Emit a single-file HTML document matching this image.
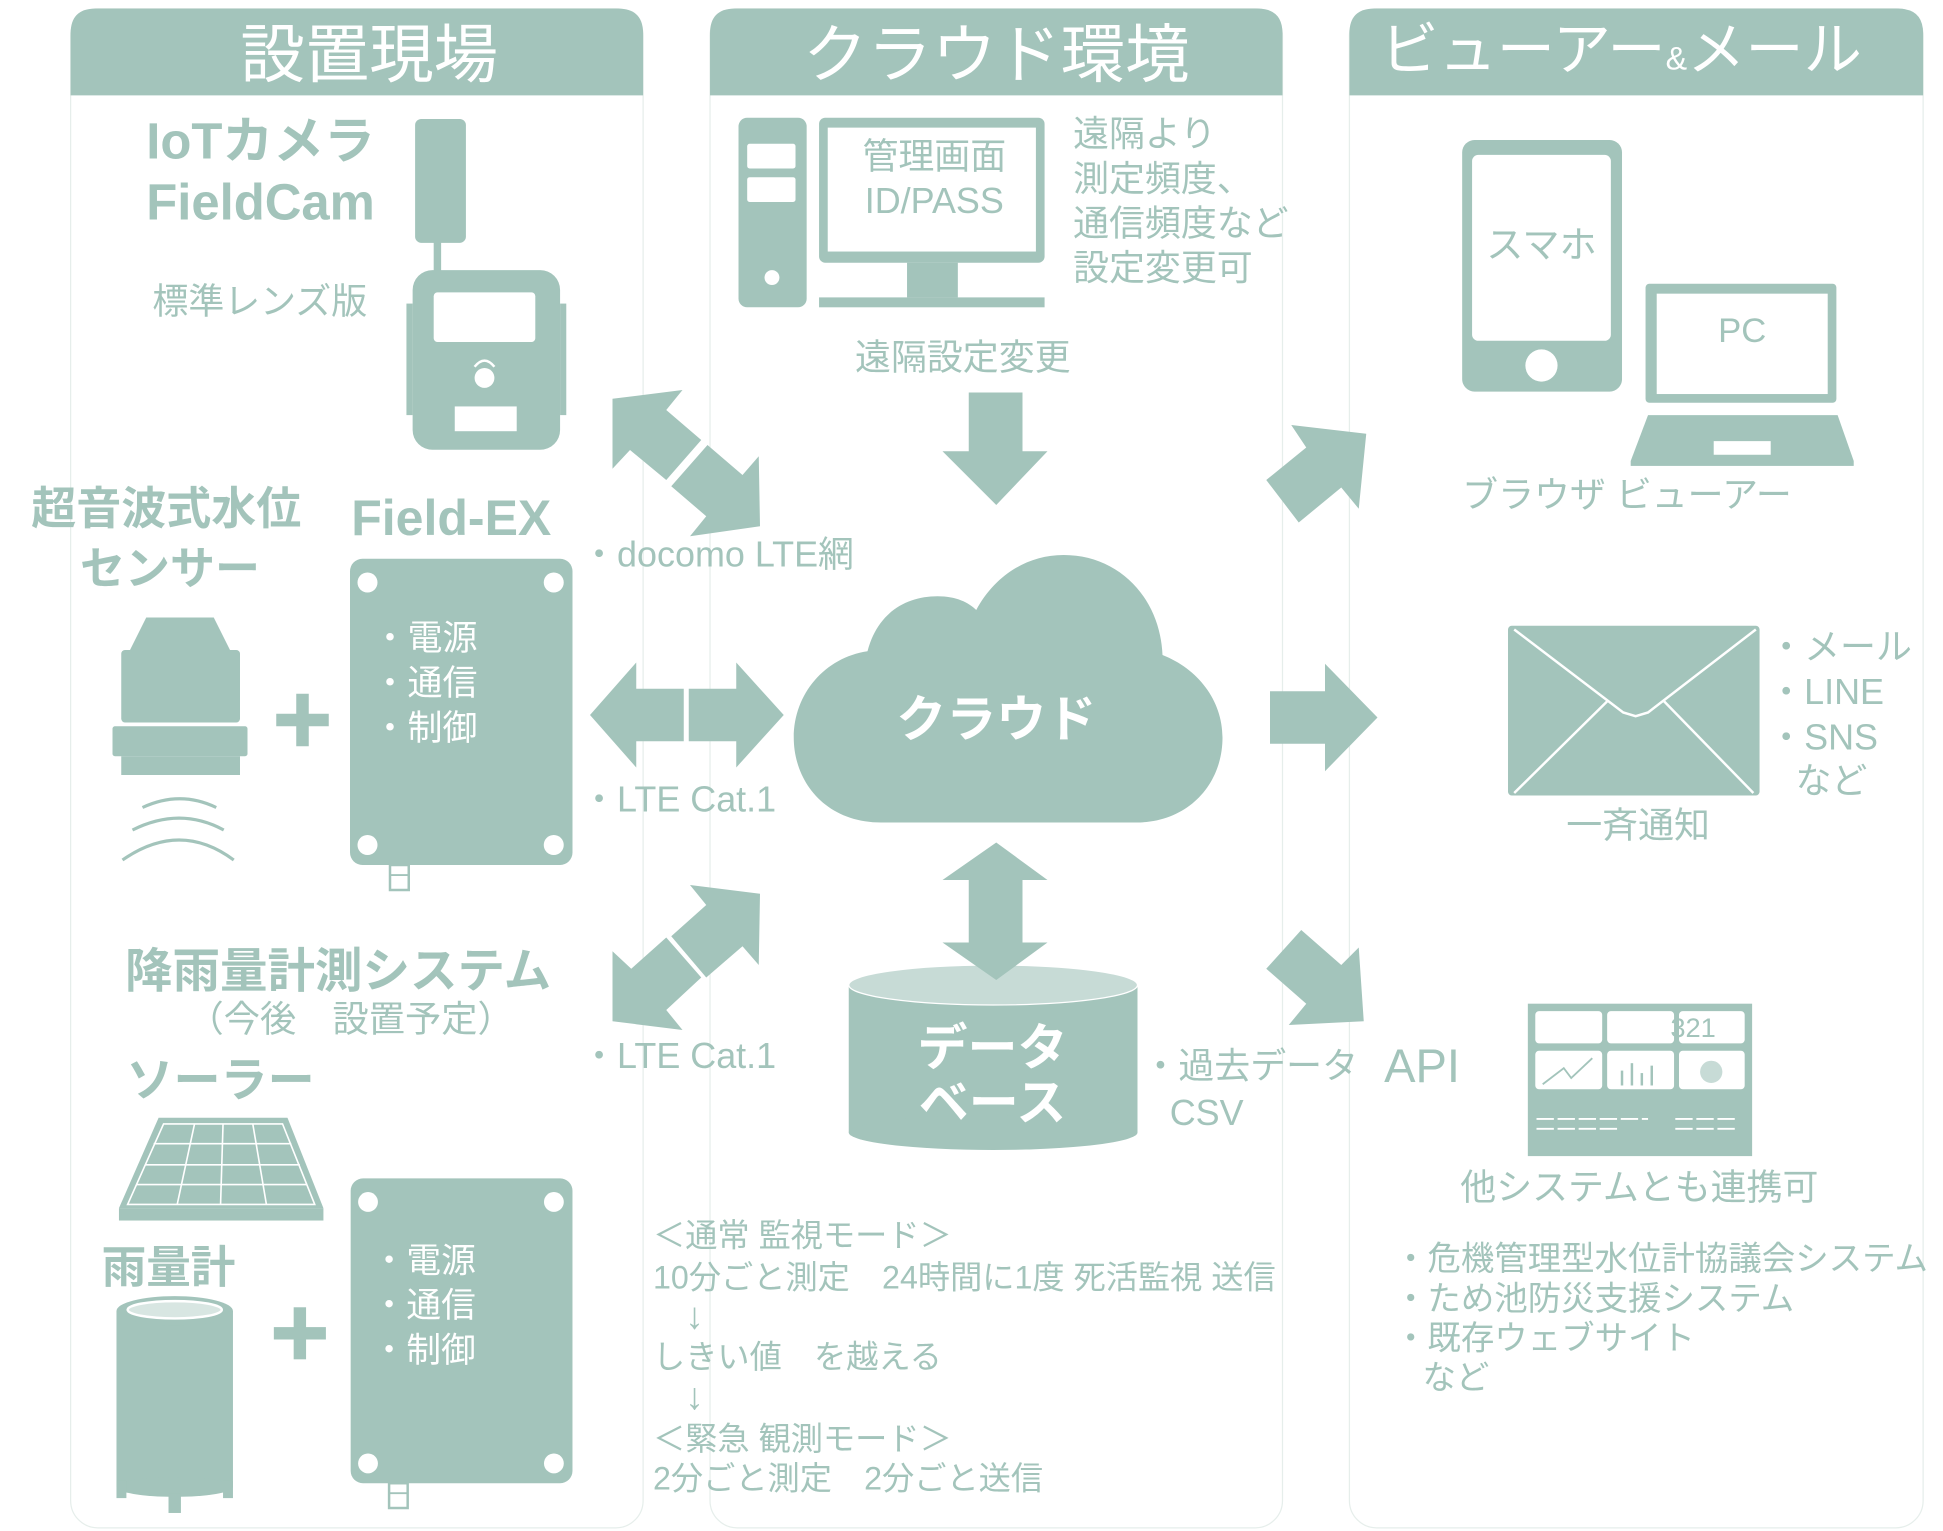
<!DOCTYPE html>
<html><head><meta charset="utf-8"><style>
html,body{margin:0;padding:0;background:#fff;}
svg{display:block;}
text{font-family:"Liberation Sans","Noto Sans CJK JP",sans-serif;fill:#a3c4bb;}
.w{fill:#fff;}
.b{font-weight:bold;}
</style></head><body>
<svg width="1943" height="1531" viewBox="0 0 1554.4 1224.8" xmlns="http://www.w3.org/2000/svg">
<g fill="#a3c4bb">
<g transform="scale(0.9913)">
<g fill="#fff" stroke="#e6eeeb" stroke-width="1">
<rect x="57" y="7" width="462" height="1226" rx="22"/>
<rect x="573" y="7" width="462" height="1226" rx="22"/>
<rect x="1089" y="7" width="463" height="1226" rx="22"/>
</g>
<path d="M57,77 V27 Q57,7 77,7 H499 Q519,7 519,27 V77 Z"/>
<path d="M573,77 V27 Q573,7 593,7 H1015 Q1035,7 1035,27 V77 Z"/>
<path d="M1089,77 V27 Q1089,7 1109,7 H1532 Q1552,7 1552,27 V77 Z"/>
<text class="w" x="298" y="62" font-size="52" text-anchor="middle">設置現場</text>
<text class="w" x="804" y="62" font-size="52" text-anchor="middle">クラウド環境</text>
<text class="w" x="1114" y="56" font-size="47">ビューアー<tspan font-size="26">&amp;</tspan>メール</text>

<text class="b" x="118" y="128" font-size="41">IoTカメラ</text>
<text class="b" x="118" y="177" font-size="41">FieldCam</text>
<text x="123" y="253" font-size="29">標準レンズ版</text>
<rect x="335" y="96" width="41" height="100" rx="5"/>
<rect x="350" y="195" width="6" height="30"/>
<rect x="333" y="218" width="119" height="145" rx="16"/>
<rect x="328" y="245" width="5" height="90"/><rect x="452" y="245" width="5" height="90"/>
<rect x="350" y="236" width="82" height="40" rx="3" fill="#fff"/>
<circle cx="391" cy="305" r="8" fill="#fff"/>
<path d="M383,296 Q391,286 399,296" fill="none" stroke="#fff" stroke-width="2"/>
<rect x="367" y="328" width="50" height="20" fill="#fff"/>

<rect x="596" y="95" width="55" height="153" rx="7"/>
<rect x="603" y="116" width="39" height="20" rx="2" fill="#fff"/>
<rect x="603" y="143" width="39" height="20" rx="2" fill="#fff"/>
<circle cx="623" cy="224" r="6" fill="#fff"/>
<rect x="661" y="95" width="182" height="117" rx="5"/>
<rect x="668" y="103" width="168" height="100" fill="#fff"/>
<rect x="732" y="212" width="41" height="28"/>
<rect x="661" y="240" width="182" height="8"/>
<text x="754" y="136" font-size="29" text-anchor="middle">管理画面</text>
<text x="754" y="172" font-size="29" text-anchor="middle">ID/PASS</text>
<text x="866" y="118" font-size="29">遠隔より</text>
<text x="866" y="154" font-size="29">測定頻度、</text>
<text x="866" y="190" font-size="29">通信頻度など</text>
<text x="866" y="226" font-size="29">設定変更可</text>
<text x="777" y="298" font-size="29" text-anchor="middle">遠隔設定変更</text>

<rect x="1180" y="113" width="129" height="203" rx="10"/>
<rect x="1188" y="125" width="112" height="150" rx="5" fill="#fff"/>
<circle cx="1244" cy="295" r="13" fill="#fff"/>
<text x="1244" y="208" font-size="30" text-anchor="middle">スマホ</text>
<rect x="1328" y="229" width="154" height="96" rx="3"/>
<rect x="1337" y="237" width="138" height="81" fill="#fff"/>
<text x="1406" y="276" font-size="28" text-anchor="middle">PC</text>
<polygon points="1330,335 1483,335 1496,372 1316,372"/>
<rect x="1316" y="372" width="180" height="4"/>
<rect x="1383" y="356" width="46" height="11" fill="#fff"/>
<text x="1180" y="409" font-size="29">ブラウザ ビューアー</text>

<text x="469" y="457" font-size="29">・docomo LTE網</text>
<text x="469" y="655" font-size="29">・LTE Cat.1</text>
<text x="469" y="862" font-size="29">・LTE Cat.1</text>

<rect x="1217" y="505" width="203" height="137" rx="3"/>
<g fill="none" stroke="#fff" stroke-width="2">
<polyline points="1222,508 1310,575 1320,578 1330,575 1417,508"/>
<line x1="1222" y1="640" x2="1297" y2="566"/><line x1="1415" y1="640" x2="1343" y2="566"/>
</g>
<text x="1427" y="532" font-size="29">・メール</text>
<text x="1427" y="568" font-size="29">・LINE</text>
<text x="1427" y="605" font-size="29">・SNS</text>
<text x="1449" y="640" font-size="29">など</text>
<text x="1322" y="676" font-size="29" text-anchor="middle">一斉通知</text>

<text x="922" y="870" font-size="29">・過去データ</text>
<text x="944" y="908" font-size="29">CSV</text>
<text x="1117" y="873" font-size="38">API</text>

<rect x="1233" y="810" width="181" height="123"/>
<g fill="#fff">
<rect x="1239" y="816" width="54" height="26" rx="3"/><rect x="1297" y="816" width="54" height="26" rx="3"/><rect x="1355" y="816" width="53" height="26" rx="3"/>
<rect x="1239" y="848" width="54" height="31" rx="3"/><rect x="1297" y="848" width="54" height="31" rx="3"/><rect x="1355" y="848" width="53" height="31" rx="3"/>
</g>
<text x="1348" y="837" font-size="22">321</text>
<polyline points="1245,875 1262,862 1268,870 1285,854" fill="none" stroke="#a3c4bb" stroke-width="1.5"/>
<g><rect x="1308" y="864" width="2" height="12"/><rect x="1316" y="858" width="2" height="18"/><rect x="1324" y="866" width="2" height="10"/><rect x="1332" y="860" width="2" height="16"/></g>
<circle cx="1381" cy="865" r="9" fill="#c7dbd6"/>
<g stroke="#fff" stroke-width="1.5" stroke-dasharray="14,3"><line x1="1240" y1="903" x2="1330" y2="903"/><line x1="1240" y1="911" x2="1305" y2="911"/><line x1="1352" y1="903" x2="1402" y2="903"/><line x1="1352" y1="911" x2="1402" y2="911"/></g>
<text x="1323" y="968" font-size="29" text-anchor="middle">他システムとも連携可</text>
<text x="1125" y="1025" font-size="27">・危機管理型水位計協議会システム</text>
<text x="1125" y="1057" font-size="27">・ため池防災支援システム</text>
<text x="1125" y="1089" font-size="27">・既存ウェブサイト</text>
<text x="1148" y="1121" font-size="27">など</text>

<text class="b" x="102" y="885" font-size="38">ソーラー</text>
<polygon points="128,902 232,902 261,975 96,975"/>
<rect x="96" y="975" width="165" height="10"/>
<g stroke="#fff" stroke-width="1.3" fill="none">
<polygon points="132,907 228,907 254,972 103,972"/>
<line x1="124" y1="923" x2="235" y2="923"/><line x1="117" y1="940" x2="242" y2="940"/><line x1="110" y1="956" x2="248" y2="956"/>
<line x1="157" y1="907" x2="143" y2="972"/><line x1="180" y1="907" x2="178" y2="972"/><line x1="204" y1="907" x2="215" y2="972"/>
</g>
<text class="b" x="82" y="1035" font-size="36">雨量計</text>
<rect x="94" y="1058" width="94" height="142"/>
<ellipse cx="141" cy="1200" rx="47" ry="8"/>
<ellipse cx="141" cy="1058" rx="47" ry="12"/>
<ellipse cx="141" cy="1057" rx="38" ry="7" fill="#d8e6e2" stroke="#fff" stroke-width="2"/>
<rect x="94" y="1195" width="8" height="14"/><rect x="180" y="1195" width="8" height="14"/><rect x="136" y="1205" width="10" height="16"/>
<rect x="237" y="1055" width="10" height="42"/><rect x="221" y="1071" width="42" height="10"/>
<rect x="283" y="951" width="179" height="246" rx="10"/>
<g fill="#fff"><circle cx="297" cy="970" r="8"/><circle cx="447" cy="970" r="8"/><circle cx="297" cy="1181" r="8"/><circle cx="447" cy="1181" r="8"/></g>
<text class="w" x="300" y="1027" font-size="28">・電源</text>
<text class="w" x="300" y="1063" font-size="28">・通信</text>
<text class="w" x="300" y="1099" font-size="28">・制御</text>
<rect x="314" y="1197" width="15" height="20" fill="none" stroke="#a3c4bb" stroke-width="2"/>
<line x1="314" y1="1205" x2="329" y2="1205" stroke="#a3c4bb" stroke-width="1.5"/>

<text x="527" y="1006" font-size="26">＜通常 監視モード＞</text>
<text x="527" y="1040" font-size="26">10分ごと測定　24時間に1度 死活監視 送信</text>
<text x="553" y="1072" font-size="30">↓</text>
<text x="527" y="1104" font-size="26">しきい値　を越える</text>
<text x="553" y="1137" font-size="30">↓</text>
<text x="527" y="1170" font-size="26">＜緊急 観測モード＞</text>
<text x="527" y="1202" font-size="26">2分ごと測定　2分ごと送信</text>
</g>

<polygon points="775,314 818,314 818,361 838,361 797,404 754,361 775,361"/>
<polygon points="490,319 546,312 533,328 561,352 533,384 504,360 490,375"/>
<polygon points="566,356 594,380 607,365 608,421 552,429 565,413 537,389"/>
<polygon points="552,708 608,715 607,772 594,757 565,782 537,749 565,724"/>
<polygon points="533,750 561,782 533,808 546,824 490,817 490,761 505,775"/>
<polygon points="1033,340 1093,347 1087,407 1073,390 1039,418 1013,384 1045,358"/>
<polygon points="1041,744 1073,772 1087,758 1091,817 1031,820 1045,803 1013,775"/>
<polygon points="472,572 509,530 509,551 547,551 547,593 509,593 509,614"/>
<polygon points="627,572 589,530 589,551 551,551 551,593 589,593 589,614"/>
<polygon points="1016,553 1060,553 1060,531 1102,574 1060,617 1060,595 1016,595"/>

<text class="b" x="25" y="419" font-size="36">超音波式水位</text>
<text class="b" x="64" y="467" font-size="36">センサー</text>
<text class="b" x="281" y="428" font-size="40">Field-EX</text>
<rect x="280" y="447" width="178" height="245" rx="10"/>
<g fill="#fff"><circle cx="294" cy="466" r="8"/><circle cx="443" cy="466" r="8"/><circle cx="294" cy="676" r="8"/><circle cx="443" cy="676" r="8"/></g>
<text class="w" x="298" y="520" font-size="28">・電源</text>
<text class="w" x="298" y="556" font-size="28">・通信</text>
<text class="w" x="298" y="592" font-size="28">・制御</text>
<rect x="312" y="692" width="15" height="20" fill="none" stroke="#a3c4bb" stroke-width="2"/>
<line x1="312" y1="700" x2="327" y2="700" stroke="#a3c4bb" stroke-width="1.5"/>
<polygon points="117,494 171,494 184,520 104,520"/>
<rect x="97" y="520" width="95" height="58" rx="3"/>
<rect x="90" y="581" width="108" height="24" rx="2"/>
<rect x="97" y="605" width="95" height="15"/>
<g fill="none" stroke="#a3c4bb" stroke-width="2.5">
<path d="M114,646 Q144,632 173,646"/><path d="M106,664 Q144,645 179,664"/><path d="M98,688 Q144,656 187,688"/>
</g>
<rect x="237" y="555" width="10" height="42"/><rect x="221" y="571" width="42" height="10"/>

<path d="M705,658 C660,658 635,625 635,590 C635,555 660,526 694,521 C702,490 725,477 750,477 C765,477 775,482 781,488 C795,462 820,444 851,444 C895,444 928,478 930,524 C958,535 978,560 978,590 C978,628 950,658 909,658 Z"/>
<text class="w b" x="797" y="589" font-size="40" text-anchor="middle">クラウド</text>

<rect x="679" y="788" width="231" height="118"/>
<ellipse cx="794.5" cy="906" rx="115.5" ry="14"/>
<ellipse cx="794.5" cy="788" rx="115.5" ry="16" fill="#c7dbd6" stroke="#fff" stroke-width="1"/>
<polygon points="797,674 838,704 818,704 818,754 838,754 797,784 754,754 775,754 775,704 754,704"/>
<text class="w b" x="794" y="852" font-size="40" text-anchor="middle">データ</text>
<text class="w b" x="794" y="896" font-size="40" text-anchor="middle">ベース</text>

<text class="b" x="100" y="790" font-size="38">降雨量計測システム</text>
<text x="150" y="825" font-size="29">（今後　設置予定）</text>
</g>
</svg>
</body></html>
